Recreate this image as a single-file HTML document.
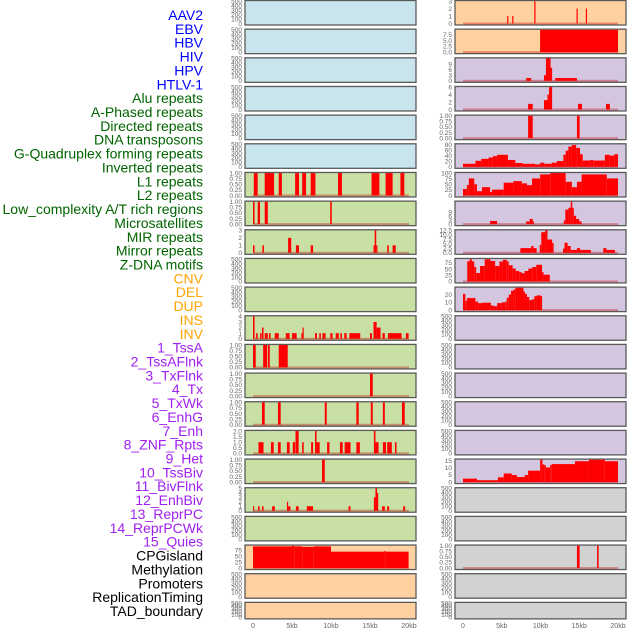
<!DOCTYPE html>
<html><head><meta charset="utf-8"><style>
html,body{margin:0;padding:0;background:#fff;}
svg{display:block;font-family:"Liberation Sans",sans-serif;}
</style></head><body>
<svg id="chart" width="630" height="630" viewBox="0 0 630 630" xmlns="http://www.w3.org/2000/svg"></svg>
<script>
const labelNames = ["AAV2","EBV","HBV","HIV","HPV","HTLV-1","Alu repeats","A-Phased repeats","Directed repeats","DNA transposons","G-Quadruplex forming repeats","Inverted repeats","L1 repeats","L2 repeats","Low_complexity A/T rich regions","Microsatellites","MIR repeats","Mirror repeats","Z-DNA motifs","CNV","DEL","DUP","INS","INV","1_TssA","2_TssAFlnk","3_TxFlnk","4_Tx","5_TxWk","6_EnhG","7_Enh","8_ZNF_Rpts","9_Het","10_TssBiv","11_BivFlnk","12_EnhBiv","13_ReprPC","14_ReprPCWk","15_Quies","CPGisland","Methylation","Promoters","ReplicationTiming","TAD_boundary"];
const labelColors = ["#0000ff","#0000ff","#0000ff","#0000ff","#0000ff","#0000ff","#006400","#006400","#006400","#006400","#006400","#006400","#006400","#006400","#006400","#006400","#006400","#006400","#006400","#ffa500","#ffa500","#ffa500","#ffa500","#ffa500","#a020f0","#a020f0","#a020f0","#a020f0","#a020f0","#a020f0","#a020f0","#a020f0","#a020f0","#a020f0","#a020f0","#a020f0","#a020f0","#a020f0","#a020f0","#000000","#000000","#000000","#000000","#000000"];
const xTickValues = [0,5,10,15,20];
const xTickLabels = ["0","5kb","10kb","15kb","20kb"];
// track data: [startKb, endKb, value]
const trackL6 = [[0.1,0.6,1],[1.5,2.7,1],[3.3,3.7,1],[5.4,5.9,1],[6.3,6.8,1],[7.4,8.0,1],[10.9,11.4,1],[15.2,16.2,1],[17.0,17.9,1],[18.9,19.4,1]];
const trackL7 = [[0,0.2,1],[0.6,0.9,1],[1.5,1.9,1],[9.9,10.1,1]];
const trackL8 = [[0,0.2,1],[1.2,1.4,1],[4.5,4.9,2],[5.5,5.9,1],[7.4,7.7,1],[15.45,15.6,1],[15.6,15.8,3],[15.8,15.95,1],[17.2,17.4,1],[17.9,18.3,1]];
const trackL11 = [[0,0.2,4],[0.4,0.6,1],[0.9,1.1,1],[1.15,1.35,2],[1.5,1.9,1],[2.05,2.25,1],[2.8,3.3,1],[4.2,4.7,1],[5.0,5.6,1],[6.2,6.35,1],[6.35,6.5,2],[7.95,8.2,1],[8.5,8.7,1],[8.9,9.3,1],[9.9,10.2,1],[10.6,11.0,1],[11.2,11.4,1],[11.7,12.0,1],[12.35,13.75,1],[15.0,15.25,1],[15.45,15.85,3],[15.85,16.35,2],[16.6,16.9,1],[17.3,19.05,1],[19.6,19.95,1]];
const trackL12 = [[0,0.35,1],[1.3,1.8,1],[1.9,2.15,1],[3.3,4.45,1]];
const trackL13 = [[15.0,15.35,1]];
const trackL14 = [[1.15,1.5,1],[3.2,3.55,1],[9.2,9.45,1],[13.25,13.55,1],[15.1,15.35,1],[16.65,16.9,1],[19.1,19.45,1]];
const trackL15 = [[0.7,1.35,1],[2.3,2.65,1],[3.2,3.55,1],[4.35,4.7,1],[5.1,5.4,1],[5.45,5.85,2],[6.3,6.5,1],[7.45,7.7,1],[7.95,8.15,2],[8.15,8.55,1],[9.5,9.8,1],[11.15,11.5,1],[11.75,12.5,1],[13.25,13.7,1],[15.5,15.7,2],[15.7,16.1,1],[16.65,17.05,1],[17.2,17.8,1],[18.2,18.4,1]];
const trackL16 = [[8.85,9.2,1]];
const trackL17 = [[0,0.1,1],[0.65,0.85,1],[1.15,1.35,1],[2.45,2.8,1],[4.35,4.5,2],[4.5,4.8,1],[5.5,5.85,1],[6.9,7.7,1],[12.25,12.5,1],[15.5,15.7,3],[15.7,15.9,5],[15.9,16.05,4],[16.55,16.9,1],[17.2,17.45,1],[19.25,19.5,1]];
const trackL19 = [[0,5,90],[5,5.3,92],[5.3,6.3,90],[6.3,7.8,88],[7.8,10,90],[10,16.8,68],[16.8,17.0,70],[17.0,19.95,68]];
const trackR0 = [[5.7,5.85,1],[6.35,6.5,1],[9.2,9.35,3],[14.65,14.8,2],[15.85,16.0,2]];
const trackR1 = [[9.95,20,9.6]];
const trackR2 = [[8.15,8.8,1.5],[10.45,10.7,3],[10.7,11.3,12],[11.3,11.5,7],[11.9,14.7,1.5]];
const trackR3 = [[8.4,9.0,1.5],[10.45,10.9,2.5],[10.9,11.1,4],[11.1,11.5,6],[14.85,15.35,1.5],[18.45,18.95,1.5]];
const trackR4 = [[8.4,9.0,1],[14.7,15.05,1]];
const trackR5 = [[0,1.6,11],[1.6,2.35,22],[2.35,3.3,29],[3.3,3.85,34],[3.85,4.4,39],[4.4,5.8,44],[5.8,6.75,25],[6.75,7.7,14],[7.7,9.3,11],[9.3,9.95,9],[9.95,10.5,15],[10.5,11.45,11],[11.45,12.1,15],[12.1,12.95,21],[12.95,13.25,44],[13.25,13.6,59],[13.6,14.05,74],[14.05,14.6,80],[14.6,15.1,69],[15.1,15.45,46],[15.45,16.4,23],[16.4,16.8,25],[16.8,18.3,23],[18.3,18.95,44],[18.95,19.5,41],[19.5,20,46]];
const trackR6 = [[0,0.5,29],[0.5,0.75,47],[0.75,1.45,76],[1.45,1.8,50],[1.8,2.45,19],[2.45,3.5,37],[3.5,3.75,16],[3.75,5.25,26],[5.25,6.5,57],[6.5,7.6,64],[7.6,8.25,54],[8.25,8.9,46],[8.9,9.95,76],[9.95,11.25,94],[11.25,13.25,100],[13.25,14.05,61],[14.05,14.7,37],[14.7,15.3,61],[15.3,18.55,94],[18.55,20,76]];
const trackR7 = [[3.5,4.4,2.4],[8.15,8.6,2],[8.6,9.0,3.9],[9.0,9.1,2],[13.0,13.2,2.7],[13.2,13.6,11],[13.6,13.9,12.4],[13.9,14.1,17],[14.1,14.3,12.4],[14.3,14.6,6.3],[14.6,15,3.9],[15,15.3,2]];
const trackR8 = [[7.4,8.8,2.6],[8.8,9.1,3.8],[9.1,9.5,2.6],[9.9,10.1,4.5],[10.1,10.6,11.5],[10.6,10.9,12.5],[10.9,11.5,7.4],[11.5,11.7,5.5],[12.9,13.1,2.3],[13.1,13.5,5.6],[13.5,13.9,3.8],[13.9,14.7,1.6],[14.7,15.1,2.6],[15.1,16.5,1.6],[18.1,18.5,2.6],[18.5,19.6,1.6]];
const trackR9 = [[0.55,0.85,81],[0.85,1.15,89],[1.15,1.45,81],[1.45,1.7,58],[1.7,2.2,34],[2.2,2.8,62],[2.8,3.55,89],[3.55,4.15,82],[4.15,4.7,62],[4.7,5.15,80],[5.15,5.65,87],[5.65,5.9,81],[5.9,6.4,65],[6.4,6.8,52],[6.8,7.25,42],[7.25,7.6,37],[7.6,7.95,33],[7.95,8.45,42],[8.45,8.95,52],[8.95,9.45,58],[9.45,10.2,67],[10.2,10.4,37],[10.4,11.2,27]];
const trackR10 = [[0,0.3,21],[0.3,0.5,12],[0.5,1.6,15.6],[1.6,1.95,11],[1.95,2.45,9],[2.45,3.6,9.6],[3.6,3.95,6],[3.95,4.4,5],[4.4,5.0,9],[5.0,5.45,10],[5.45,5.65,11],[5.65,5.9,16],[5.9,6.2,20],[6.2,6.5,25],[6.5,6.75,26.5],[6.75,7.8,29],[7.8,8.0,24],[8.0,8.25,21],[8.25,8.55,17],[8.55,8.9,13],[8.9,9.2,14],[9.2,9.5,18],[9.5,10.05,19],[10.05,10.2,18]];
const trackR16 = [[0,1.8,2.4],[1.8,4.5,1.3],[4.5,5.25,3.3],[5.25,6.3,6],[6.3,6.95,4.9],[6.95,7.95,3.5],[7.95,8.4,4.9],[8.4,9.95,8],[9.95,10.25,15.7],[10.25,10.5,12.4],[10.5,10.7,11.7],[10.7,11.25,10.2],[11.25,11.45,12],[11.45,14.45,12.6],[14.45,16.25,14.6],[16.25,18.3,15.7],[18.3,20,14.6]];
const trackR19 = [[14.7,15.05,1],[17.3,17.5,1]];

const BG = {b:"#c8e4ec",g:"#c8e0a3",o:"#ffd0a0",p:"#d5c6e0",s:"#d2d2d2"};
const T01 = [[0,"0.00"],[0.25,"0.25"],[0.5,"0.50"],[0.75,"0.75"],[1,"1.00"]];
const TE = [[0,"0"],[100,"100"],[200,"200"],[300,"300"],[400,"400"],[500,"500"]];
const INT = n => Array.from({length:n+1},(_, i)=>[i,String(i)]);
// [col,row,bg,data,ymax,ticks]
const panels = [
 [0,0,"b",null,500,TE],[0,1,"b",null,500,TE],[0,2,"b",null,500,TE],[0,3,"b",null,500,TE],[0,4,"b",null,500,TE],[0,5,"b",null,500,TE],
 [0,6,"g",trackL6,1,T01],[0,7,"g",trackL7,1,T01],[0,8,"g",trackL8,3,INT(3)],[0,9,"g",null,500,TE],[0,10,"g",null,500,TE],
 [0,11,"g",trackL11,4,INT(4)],[0,12,"g",trackL12,1,T01],[0,13,"g",trackL13,1,T01],[0,14,"g",trackL14,1,T01],
 [0,15,"g",trackL15,2,[[0,"0.0"],[0.5,"0.5"],[1,"1.0"],[1.5,"1.5"],[2,"2.0"]]],[0,16,"g",trackL16,1,T01],[0,17,"g",trackL17,5,INT(5)],[0,18,"g",null,500,TE],
 [0,19,"o",trackL19,93,[[0,"0"],[25,"25"],[50,"50"],[75,"75"]]],[0,20,"o",null,500,TE],[0,21,"o",null,500,TE],
 [1,0,"o",trackR0,3,INT(3)],[1,1,"o",trackR1,9.6,[[0,"0.0"],[2.5,"2.5"],[5,"5.0"],[7.5,"7.5"]]],
 [1,2,"p",trackR2,12,[[0,"0"],[3,"3"],[6,"6"],[9,"9"]]],[1,3,"p",trackR3,6,[[0,"0"],[2,"2"],[4,"4"],[6,"6"]]],[1,4,"p",trackR4,1,T01],
 [1,5,"p",trackR5,82,[[0,"0"],[20,"20"],[40,"40"],[60,"60"],[80,"80"]]],[1,6,"p",trackR6,100,[[0,"0"],[25,"25"],[50,"50"],[75,"75"],[100,"100"]]],
 [1,7,"p",trackR7,17,[[0,"0"],[3,"3"],[6,"6"],[9,"9"]]],[1,8,"p",trackR8,12.5,[[0,"0.0"],[2.5,"2.5"],[5,"5.0"],[7.5,"7.5"],[10,"10.0"],[12.5,"12.5"]]],
 [1,9,"p",trackR9,90,[[0,"0"],[25,"25"],[50,"50"],[75,"75"]]],[1,10,"p",trackR10,29,[[0,"0"],[10,"10"],[20,"20"]]],
 [1,11,"p",null,500,TE],[1,12,"p",null,500,TE],[1,13,"p",null,500,TE],[1,14,"p",null,500,TE],[1,15,"p",null,500,TE],
 [1,16,"p",trackR16,15.7,[[0,"0"],[5,"5"],[10,"10"],[15,"15"]]],
 [1,17,"s",null,500,TE],[1,18,"s",null,500,TE],[1,19,"s",trackR19,1,T01],[1,20,"s",null,500,TE],[1,21,"s",null,500,TE]
];
const NS="http://www.w3.org/2000/svg";
const svg=document.getElementById('chart');
function mk(tag,attrs,parent){const e=document.createElementNS(NS,tag);for(const k in attrs)e.setAttribute(k,attrs[k]);(parent||svg).appendChild(e);return e;}
// labels
labelNames.forEach((n,i)=>{
  const t=mk('text',{x:203,y:20+i*13.86,'text-anchor':'end','font-size':'14',fill:labelColors[i]});
  
  
  t.textContent=n;
});
const colBox=[[245,416],[455,626]];
const colX=[[253,409],[463,618]];
function xScale(c,kb){return colX[c][0]+(colX[c][1]-colX[c][0])*kb/20;}
panels.forEach(p=>{
  const [c,r,bg,data,ymax,ticks]=p;
  const top=0.5+r*28.66, h=(r===21?16.5:24.5);
  const g=mk('g',{});
  
  
  mk('rect',{x:colBox[c][0],y:top,width:colBox[c][1]-colBox[c][0],height:h,fill:BG[bg],stroke:'#5a5a5a','stroke-width':1.3},g);
  const y0=top+h-1.5, y1=top+0.6;
  const yScale=v=>y0-(y0-y1)*v/ymax;
  ticks.forEach(t=>{
    const tx=mk('text',{x:colBox[c][0]-3,y:yScale(t[0])+2.3,'text-anchor':'end','font-size':'6.5',fill:'#666'},g);
    
    
    tx.textContent=t[1];
  });
  if(data){
    const base=mk('rect',{x:xScale(c,0),y:y0-1,width:xScale(c,20)-xScale(c,0),height:2,fill:'rgba(190,0,0,0.35)'},g);
    
    
    data.forEach(d=>{
      const xa=xScale(c,d[0]), xb=xScale(c,d[1]), yv=yScale(d[2]);
      const b=mk('rect',{x:xa,y:yv,width:Math.max(1.2,xb-xa),height:y0-yv,fill:'#ff0000'},g);
      
      
    });
  }
});
// x axes
[0,1].forEach(c=>{
  xTickValues.forEach((v,i)=>{
    const t=mk('text',{x:xScale(c,v),y:628,'text-anchor':'middle','font-size':'7',fill:'#666'});
    
    
    t.textContent=xTickLabels[i];
  });
});
</script>
</body></html>
